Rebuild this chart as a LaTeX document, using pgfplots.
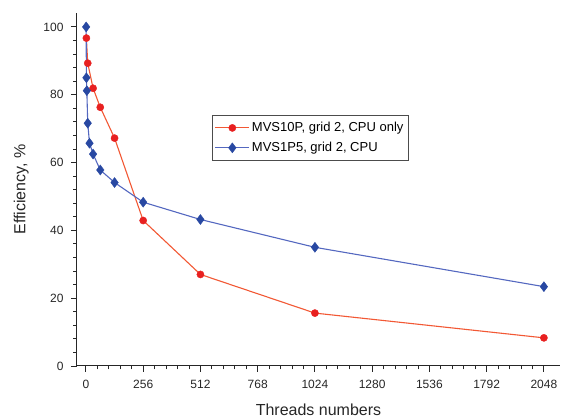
\documentclass[border=0pt]{standalone}
\usepackage{pgfplots}
\pgfplotsset{compat=1.18}
\usepackage{fontspec}
\setmainfont{Liberation Sans}
\definecolor{redline}{RGB}{242,88,52}
\definecolor{redmark}{RGB}{232,32,32}
\definecolor{blueline}{RGB}{84,104,192}
\definecolor{bluemark}{RGB}{40,72,162}
\begin{document}
\begin{tikzpicture}
\begin{axis}[
    scale only axis,
    width=483pt, height=353pt,
    xmin=-40, xmax=2120,
    ymin=0, ymax=104.1,
    axis x line*=bottom,
    axis y line*=left,
    axis line style={line width=1pt, black!85},
    tick align=outside,
    major tick length=6pt,
    minor tick length=3.5pt,
    every tick/.style={black!85, line width=0.9pt},
    xtick={0,256,...,2048},
    ytick={0,20,...,100},
    minor x tick num=4,
    minor y tick num=4,
    /pgf/number format/assume math mode=true,
    /pgf/number format/1000 sep={},
    ticklabel style={font=\fontsize{12}{14}\selectfont, text=black!85},
    xticklabel style={yshift=-5pt},
    yticklabel style={xshift=-4pt},
    xlabel={Threads numbers},
    ylabel={Efficiency, \%},
    label style={font=\fontsize{16}{18}\selectfont, text=black!85},
    xlabel style={yshift=-8pt},
    ylabel style={yshift=8pt},
    legend style={at={(axis cs:563,74)}, anchor=north west,
        draw=black!70, line width=0.8pt,
        font=\fontsize{13}{15}\selectfont,
        inner xsep=2.5pt, inner ysep=5pt, row sep=5pt,
        nodes={inner ysep=2pt}},
    legend cell align=left,
    legend image post style={line width=1.1pt},
    legend image code/.code={
        \draw[mark repeat=2,mark phase=2] plot coordinates {(0cm,0cm) (0.6cm,0cm) (1.2cm,0cm)};
    },
]
\addplot[color=redline, line width=1.1pt, mark=*, mark size=3.6pt,
    mark options={draw=redmark, fill=redmark, line width=0.4pt}] coordinates {
    (2,96.7) (8,89.3) (32,81.9) (64,76.3) (128,67.2)
    (256,42.9) (512,27.0) (1024,15.6) (2048,8.3)
};
\addplot[color=blueline, line width=1.1pt, mark=diamond*, mark size=5pt,
    mark options={draw=bluemark, fill=bluemark, line width=0.4pt}] coordinates {
    (1,100) (2,85.0) (4,81.2) (8,71.6) (16,65.7) (32,62.5) (64,57.8)
    (128,54.1) (256,48.3) (512,43.2) (1024,35.0) (2048,23.4)
};
\legend{{MVS10P, grid 2, CPU only}, {MVS1P5, grid 2, CPU}}
\end{axis}
\pgfresetboundingbox
\path (current axis.south west) ++(-77pt,-53pt) rectangle ++(563pt,419pt);
\end{tikzpicture}
\end{document}
